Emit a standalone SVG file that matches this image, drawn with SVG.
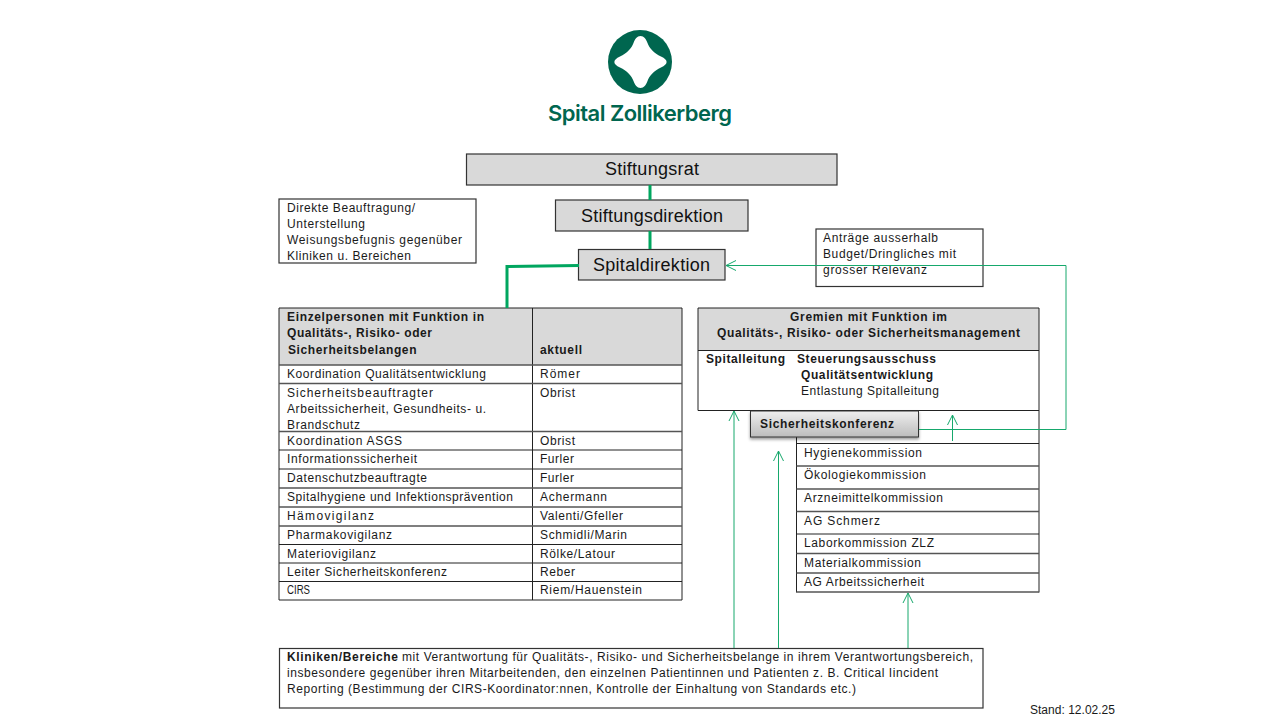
<svg xmlns="http://www.w3.org/2000/svg" width="1280" height="720" viewBox="0 0 1280 720">
<style>
text{font-family:"Liberation Sans",Arial,sans-serif;font-size:12px;fill:#1a1a1a}
.b{font-weight:bold}
.t{font-size:18px;fill:#111}
.box{fill:#d9d9d9;stroke:#333;stroke-width:1.2}
.note{fill:#fff;stroke:#333;stroke-width:1.2}
.ln{stroke:#222;stroke-width:1;fill:none}
.lg{stroke:#555;stroke-width:1.4;fill:none}
.thick{stroke:#00a65f;stroke-width:3;fill:none}
.thin{stroke:#16a86c;stroke-width:1;fill:none}
.arr{marker-end:url(#open)}
</style>
<defs>
<marker id="open" viewBox="0 0 12 12" refX="11" refY="6" markerWidth="12" markerHeight="12" markerUnits="userSpaceOnUse" orient="auto">
<path d="M1,1 L11,6 L1,11" fill="none" stroke="#16a86c" stroke-width="1"/>
</marker>
<linearGradient id="sk" x1="0" y1="0" x2="0" y2="1"><stop offset="0" stop-color="#efefef"/><stop offset="1" stop-color="#bcbcbc"/></linearGradient>
<filter id="sh" x="-5%" y="-20%" width="110%" height="150%"><feDropShadow dx="0" dy="2" stdDeviation="1.500" flood-color="#000" flood-opacity="0.4"/></filter>
</defs>
<rect width="1280" height="720" fill="#fff"/>
<g id="logo">
<circle cx="640" cy="62" r="32" fill="#00664f"/>
<path fill="#fff" d="M640.500,36 C644,36 646,39 647.500,43 C649.500,48.500 654,53 661,56.500 C668.500,60 668.500,64 661,67.500 C654,71 649.500,75.500 647.500,81 C646,85 644,88 640.500,88 C637,88 635,85 633.500,81 C631.500,75.500 627,71 620,67.500 C612.500,64 612.500,60 620,56.500 C627,53 631.500,48.500 633.500,43 C635,39 637,36 640.500,36Z"/>
<text x="548" y="121" textLength="184" style="font-family:Inter,sans-serif;font-size:22px;font-weight:600;fill:#00664f">Spital Zollikerberg</text>
</g>
<g id="stiftungsrat"><rect class="box" x="466.500" y="154" width="370.500" height="31"/><text class="t" x="605" y="175" textLength="94">Stiftungsrat</text></g>
<g id="stiftungsdirektion"><rect class="box" x="555.500" y="200" width="192.500" height="31"/><text class="t" x="581" y="222" textLength="142">Stiftungsdirektion</text></g>
<g id="spitaldirektion"><rect class="box" x="578.500" y="249.500" width="146.500" height="30.500"/><text class="t" x="593" y="271" textLength="117">Spitaldirektion</text></g>
<g id="note-beauftragung"><rect class="note" x="279" y="199" width="197" height="64"/>
<text x="287" y="212" textLength="128">Direkte Beauftragung/</text><text x="287" y="228" textLength="78">Unterstellung</text><text x="287" y="244" textLength="175">Weisungsbefugnis gegenüber</text><text x="287" y="260" textLength="124">Kliniken u. Bereichen</text></g>
<g id="note-antraege"><rect class="note" x="816" y="229" width="167" height="57.500"/>
<text x="823" y="242" textLength="115">Anträge ausserhalb</text><text x="823" y="258" textLength="133">Budget/Dringliches mit</text><text x="823" y="274" textLength="104">grosser Relevanz</text></g>
<g id="table-einzelpersonen">
<rect x="279" y="308" width="403" height="57" fill="#d9d9d9"/>
<path class="ln" d="M279,308H682V600H279ZM532.500,308V600"/>
<path class="lg" d="M279,365H682M279,383.500H682M279,431.500H682M279,488H682M279,507H682M279,526H682"/>
<path class="ln" d="M279,450H682M279,469H682M279,544.500H682M279,563H682M279,581.500H682"/>
<text class="b" x="287" y="321" textLength="197">Einzelpersonen mit Funktion in</text><text class="b" x="287" y="337" textLength="145">Qualitäts-, Risiko- oder</text><text class="b" x="288" y="354" textLength="128.500">Sicherheitsbelangen</text><text class="b" x="540" y="354" textLength="42">aktuell</text>
<text x="287" y="378" textLength="199">Koordination Qualitätsentwicklung</text><text x="540" y="378" textLength="40">Römer</text>
<text x="287" y="397" textLength="146">Sicherheitsbeauftragter</text><text x="540" y="397" textLength="35">Obrist</text>
<text x="287" y="413" textLength="199">Arbeitssicherheit, Gesundheits- u.</text>
<text x="287" y="429" textLength="73">Brandschutz</text>
<text x="287" y="445" textLength="115">Koordination ASGS</text><text x="540" y="445" textLength="35">Obrist</text>
<text x="287" y="463" textLength="130">Informationssicherheit</text><text x="540" y="463" textLength="34">Furler</text>
<text x="287" y="482" textLength="140">Datenschutzbeauftragte</text><text x="540" y="482" textLength="34">Furler</text>
<text x="287" y="501" textLength="226">Spitalhygiene und Infektionsprävention</text><text x="540" y="501" textLength="67">Achermann</text>
<text x="287" y="520" textLength="87">Hämovigilanz</text><text x="540" y="520" textLength="83">Valenti/Gfeller</text>
<text x="287" y="539" textLength="105">Pharmakovigilanz</text><text x="540" y="539" textLength="87">Schmidli/Marin</text>
<text x="287" y="558" textLength="89">Materiovigilanz</text><text x="540" y="558" textLength="75">Rölke/Latour</text>
<text x="287" y="576" textLength="160">Leiter Sicherheitskonferenz</text><text x="540" y="576" textLength="35">Reber</text>
<text x="287" y="594" textLength="23" lengthAdjust="spacingAndGlyphs">CIRS</text><text x="540" y="594" textLength="102">Riem/Hauenstein</text>
</g>
<g id="table-gremien">
<rect x="698" y="308" width="341" height="42.500" fill="#d9d9d9"/>
<path class="ln" d="M698,308H1039V592.500M698,308V410.500H1039M698,350.500H1039M796.500,410.500V592.500M796.500,443.500H1039M796.500,534H1039"/>
<path class="lg" d="M796.500,466H1039M796.500,489H1039M796.500,511.500H1039M796.500,553.500H1039M796.500,573H1039M796.500,592H1039"/>
<text class="b" x="790" y="321" textLength="157">Gremien mit Funktion im</text><text class="b" x="717" y="337" textLength="303">Qualitäts-, Risiko- oder Sicherheitsmanagement</text>
<text class="b" x="706" y="363" textLength="79">Spitalleitung</text><text class="b" x="797" y="363" textLength="139">Steuerungsausschuss</text>
<text class="b" x="801" y="379" textLength="132">Qualitätsentwicklung</text><text x="801" y="395" textLength="138">Entlastung Spitalleitung</text>
<text x="804" y="457" textLength="118">Hygienekommission</text><text x="804" y="479" textLength="122">Ökologiekommission</text><text x="804" y="502" textLength="139">Arzneimittelkommission</text><text x="804" y="525" textLength="76">AG Schmerz</text><text x="804" y="547" textLength="130">Laborkommission ZLZ</text><text x="804" y="567" textLength="117">Materialkommission</text><text x="804" y="586" textLength="120">AG Arbeitssicherheit</text>
</g>
<g id="sicherheitskonferenz"><rect x="750.500" y="411" width="168" height="26" fill="url(#sk)" stroke="#333" stroke-width="1" filter="url(#sh)"/><text class="b" x="760" y="428" textLength="134">Sicherheitskonferenz</text></g>
<g id="kliniken"><rect class="note" x="279.500" y="648.500" width="703.500" height="59.500"/>
<text class="b" x="287" y="661" textLength="111">Kliniken/Bereiche</text><text x="402" y="661" textLength="571">mit Verantwortung für Qualitäts-, Risiko- und Sicherheitsbelange in ihrem Verantwortungsbereich,</text>
<text x="287" y="677" textLength="651">insbesondere gegenüber ihren Mitarbeitenden, den einzelnen Patientinnen und Patienten z. B. Critical Iincident</text>
<text x="287" y="693" textLength="569">Reporting (Bestimmung der CIRS-Koordinator:nnen, Kontrolle der Einhaltung von Standards etc.)</text></g>
<text id="stand" x="1030" y="714" textLength="85">Stand: 12.02.25</text>
<g id="connectors">
<path class="thick" d="M650,185V200M650,231V249M579,265.500L507,266.500V308"/>
<path class="thin arr" d="M919,429.500H1066V265.500H726"/>
<path class="thin arr" d="M734,648V411"/>
<path class="thin arr" d="M778.500,648V451"/>
<path class="thin arr" d="M908,648V593"/>
<path class="thin arr" d="M952.500,441V415"/>
</g>
</svg>
